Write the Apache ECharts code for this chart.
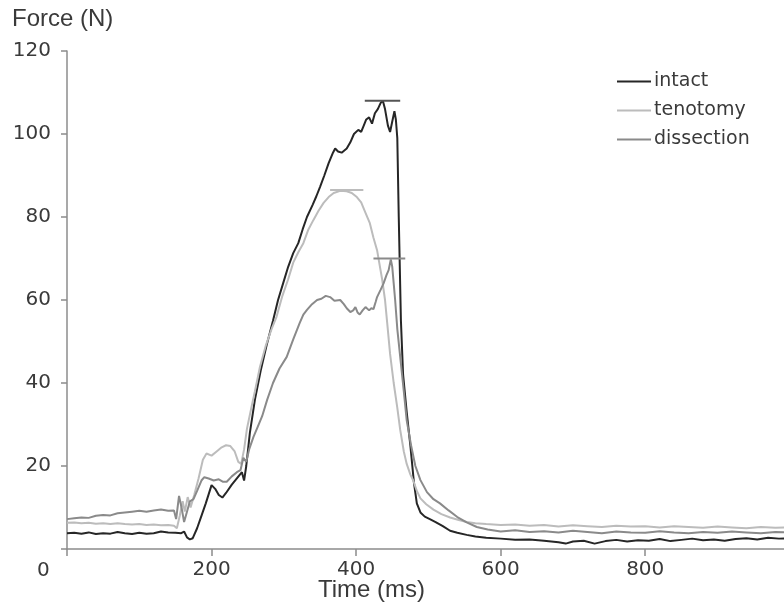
<!DOCTYPE html>
<html><head><meta charset="utf-8">
<script src="https://cdn.jsdelivr.net/npm/echarts@6/dist/echarts.min.js"></script>
<style>html,body{margin:0;padding:0;background:#fff}#c{width:784px;height:605px}</style>
</head><body><div id="c"></div>
<script>
// Time (ms), Force (N)
const intact = [[0,3.8],[10,3.9],[20,3.7],[30,4.0],[40,3.6],[50,3.8],[60,3.7],[70,4.1],[80,3.8],[90,3.6],[100,3.9],[110,3.7],[120,3.8],[130,4.2],[140,4.0],[150,3.9],[158,3.8],[162,4.2],[166,2.8],[170,2.3],[174,2.6],[180,5],[186,8],[192,11],[200,15.4],[205,14.5],[210,13],[215,12.4],[220,13.5],[228,15.5],[235,17],[242,18.5],[245,16.5],[248,20],[253,28],[260,36],[268,43],[276,49],[285,55],[292,60],[299,64],[306,68],[313,71.3],[320,73.7],[326,77],[332,80],[340,83],[345,85],[350,87.2],[356,90],[362,93],[368,95.5],[371,96.5],[375,95.8],[380,95.5],[387,96.5],[392,98],[397,100],[403,101],[407,100.5],[410,101.8],[414,103.5],[418,104],[422,102.5],[426,105],[430,106],[434,107.5],[437,108],[440,106],[444,102],[447,100.5],[450,103],[453,105.5],[455,103.5],[457,99],[459,80],[462,55],[465,42],[470,33],[475,25],[480,16],[484,11],[489,8.8],[495,7.8],[502,7.2],[510,6.5],[520,5.5],[530,4.4],[540,3.9],[553,3.4],[565,3.0],[580,2.7],[600,2.5],[620,2.2],[640,2.3],[660,2.0],[680,1.6],[690,1.3],[700,1.8],[715,2.0],[730,1.3],[745,1.9],[760,2.2],[775,1.8],[790,2.1],[805,2.0],[820,2.4],[835,1.9],[850,2.2],[865,2.5],[880,2.1],[895,2.3],[910,2.0],[925,2.4],[940,2.6],[955,2.3],[970,2.7],[985,2.5],[1000,2.6]];
const tenotomy = [[0,6.3],[10,6.4],[20,6.2],[30,6.3],[40,6.1],[50,6.2],[60,6.0],[70,6.2],[80,6.0],[90,5.9],[100,6.0],[110,5.8],[120,5.9],[130,5.7],[140,5.8],[148,5.6],[152,5.0],[156,8],[160,11.5],[163,9],[167,12.5],[171,10],[176,13],[182,17],[188,21.5],[193,23],[200,22.5],[207,23.5],[214,24.5],[220,25],[226,24.8],[232,23.5],[237,21],[241,20.5],[245,24],[249,29],[255,34],[260,38],[267,43.9],[275,49],[283,53],[290,56],[298,61],[306,65],[313,69],[320,71.5],[327,73.7],[334,77],[341,79.3],[348,81.5],[355,83.4],[362,84.8],[369,85.8],[378,86.3],[387,86.2],[394,85.8],[401,84.8],[407,83.5],[413,81],[419,78.5],[424,75],[429,72],[433,68],[436,65],[440,60],[443,54.5],[447,47],[452,40],[457,34],[461,28.7],[466,23.5],[470,20.5],[475,18],[479,16.5],[484,14],[489,12.2],[497,10.8],[507,9.5],[518,8.4],[530,7.6],[542,7.0],[553,6.5],[565,6.2],[580,6.0],[600,5.8],[620,5.9],[640,5.6],[660,5.8],[680,5.4],[700,5.7],[720,5.5],[740,5.3],[760,5.6],[780,5.4],[800,5.5],[820,5.2],[840,5.5],[860,5.3],[880,5.1],[900,5.4],[920,5.2],[940,5.0],[960,5.3],[980,5.1],[1000,5.2]];
const dissection = [[0,7.2],[10,7.4],[20,7.6],[30,7.5],[40,8.0],[50,8.2],[60,8.1],[70,8.6],[80,8.8],[90,9.0],[100,9.2],[110,9.0],[120,9.3],[130,9.5],[140,9.2],[148,9.3],[151,7.2],[155,12.8],[159,9.5],[162,6.5],[166,9.0],[170,11.5],[175,12],[180,14],[186,16.5],[190,17.3],[196,17],[203,16.5],[210,16.8],[216,16.2],[221,16.2],[228,17.5],[235,18.5],[240,19],[244,22],[248,21],[252,24],[258,27],[264,29.5],[270,32],[277,36],[285,40],[294,43.5],[304,46.3],[313,50.5],[322,54.5],[327,56.5],[332,57.6],[339,59],[346,60],[352,60.3],[358,61],[364,60.7],[370,59.8],[378,60],[383,59],[387,58],[392,57.1],[396,57.5],[399,58.3],[402,57],[405,56.5],[409,57.5],[413,58.3],[418,57.5],[421,58],[424,57.8],[427,59.5],[429,60.7],[434,62.5],[438,64],[442,66],[445,67.2],[448,69.8],[450,68],[452,64],[454,60],[457,53],[461,46.3],[466,38],[470,31],[476,25],[482,20],[489,16.6],[498,13.7],[507,12],[516,11],[528,9.3],[540,7.7],[553,6.4],[567,5.3],[582,4.7],[600,4.2],[620,4.5],[640,4.1],[660,4.3],[680,4.0],[700,4.4],[720,4.1],[740,3.8],[760,4.2],[780,4.0],[800,3.9],[820,4.3],[840,4.0],[860,3.8],[880,4.1],[900,3.9],[920,4.2],[940,4.0],[960,3.8],[980,4.1],[1000,4.0]];
// peak markers: [startMs, endMs, force]
const peakIntact = [412, 461, 108];
const peakTenotomy = [364, 410, 86.5];
const peakDissection = [424, 468, 70];
const xTicks = [0, 200, 400, 600, 800];
const yTicks = [0, 20, 40, 60, 80, 100, 120];

const cIntact = '#262626', cTen = '#bcbcbc', cDis = '#8a8a8a';
const seg = p => [[p[0], p[2]], [p[1], p[2]]];
const lineS = (name, data, color, w) => ({
  name, type: 'line', data, showSymbol: false, symbol: 'none', smooth: false,
  lineStyle: { color, width: w }, itemStyle: { color }, animation: false, z: 3
});
const chart = echarts.init(document.getElementById('c'), null, { renderer: 'canvas' });
chart.setOption({
  animation: false,
  backgroundColor: '#fff',
  grid: { left: 67, top: 51, right: 0, bottom: 56, containLabel: false },
  xAxis: {
    type: 'value', min: 0, max: 992, interval: 200,
    axisLine: { lineStyle: { color: '#8c8c8c', width: 1.5 } },
    axisTick: { show: true, length: 7, lineStyle: { color: '#8c8c8c', width: 1.5 } },
    splitLine: { show: false },
    axisLabel: { margin: 11, fontSize: 20, color: '#3a3a3a', fontFamily: 'DejaVu Sans', showMaxLabel: false,
      formatter: v => (v === 0 || xTicks.indexOf(v) < 0) ? '' : String(v) }
  },
  yAxis: {
    type: 'value', min: 0, max: 120, interval: 20,
    axisLine: { show: true, lineStyle: { color: '#8c8c8c', width: 1.5 } },
    axisTick: { show: true, length: 6, lineStyle: { color: '#8c8c8c', width: 1.5 } },
    splitLine: { show: false },
    axisLabel: { margin: 16, fontSize: 20, color: '#3a3a3a', fontFamily: 'DejaVu Sans',
      formatter: v => (v === 0 || yTicks.indexOf(v) < 0) ? '' : String(v) }
  },
  legend: {
    data: ['intact', 'tenotomy', 'dissection'],
    orient: 'vertical', left: 612, top: 67, itemWidth: 34, itemHeight: 2, itemGap: 10,
    icon: 'rect',
    textStyle: { fontSize: 19, color: '#3a3a3a', fontFamily: 'DejaVu Sans', padding: [0, 0, 0, -2] }
  },
  graphic: [
    { type: 'text', left: 12, top: 7, style: { text: 'Force (N)', font: '24px "Liberation Sans"', fill: '#3a3a3a' } },
    { type: 'text', left: 37, top: 561, style: { text: '0', font: '20px "DejaVu Sans"', fill: '#3a3a3a' } },
    { type: 'text', left: 318, top: 578, style: { text: 'Time (ms)', font: '24px "Liberation Sans"', fill: '#3a3a3a' } }
  ],
  series: [
    lineS('intact', intact, cIntact, 2),
    lineS('tenotomy', tenotomy, cTen, 2),
    lineS('dissection', dissection, cDis, 2),
    lineS('pk1', seg(peakIntact), '#555', 2),
    lineS('pk2', seg(peakTenotomy), cTen, 2),
    lineS('pk3', seg(peakDissection), cDis, 2)
  ]
});
</script></body></html>
